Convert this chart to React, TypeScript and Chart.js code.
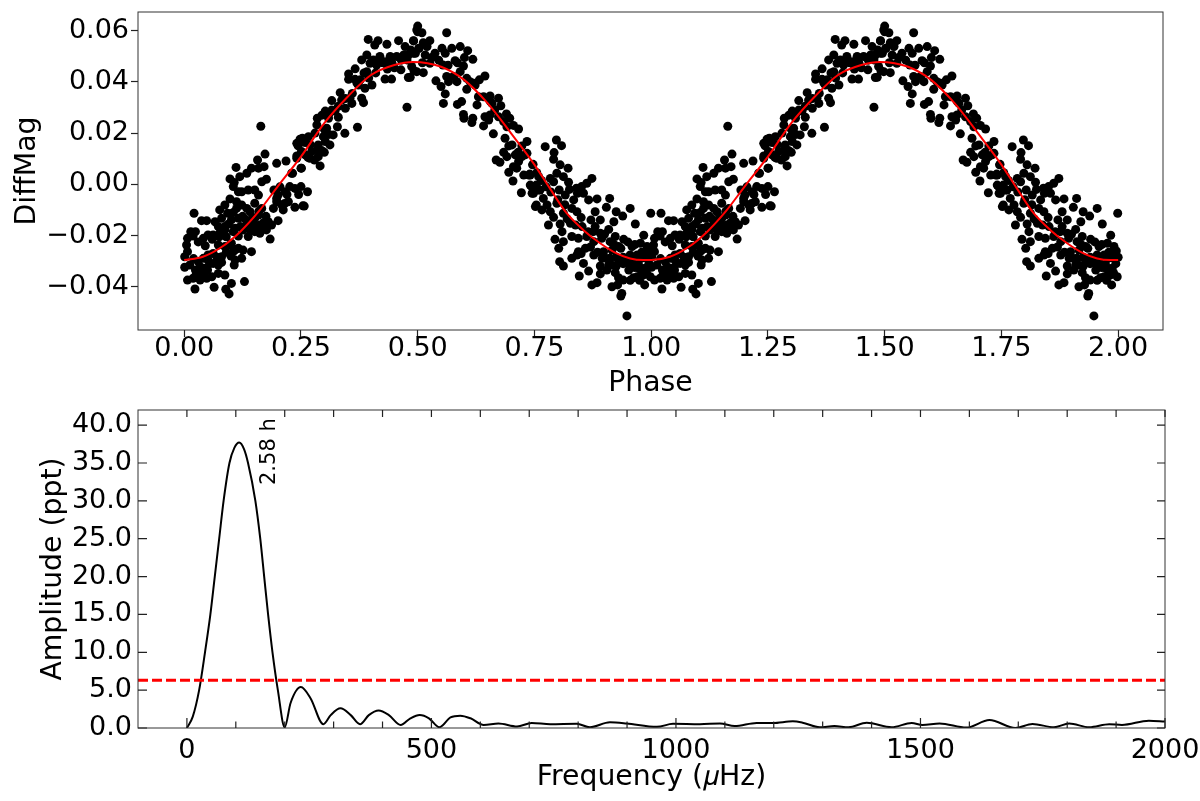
import { useEffect, useRef } from "react";
import { Chart, registerables } from "chart.js";

Chart.register(...registerables);

const FONT = "'DejaVu Sans', sans-serif";

// folded light curve, one cycle; the plot shows it twice
const phase = [
  0.005, 0.007, 0.014, 0.007, 0.001, 0.019, 0.024, 0.001, 0.012, 0.03, 0.041, 0.051, 0.062, 0.073, 0.087, 0.098,
  0.007, 0.019, 0.026, 0.034, 0.044, 0.023, 0.034, 0.048, 0.059, 0.064, 0.073, 0.073, 0.087, 0.101, 0.089, 0.096, 0.129,
  0.107, 0.109, 0.105, 0.123, 0.126, 0.116, 0.144, 0.08, 0.062, 0.051, 0.024, 0.041,
  0.021, 0.037, 0.048, 0.066, 0.073, 0.051, 0.062, 0.041, 0.076, 0.08, 0.093, 0.087, 0.076, 0.087, 0.101, 0.112, 0.116, 0.087, 0.098, 0.112, 0.123, 0.134,
  0.116, 0.123, 0.137, 0.151, 0.159, 0.151, 0.141, 0.166, 0.159, 0.151, 0.162, 0.146, 0.134, 0.126, 0.109, 0.151, 0.166, 0.184, 0.137, 0.162, 0.176, 0.187, 0.201, 0.18, 0.101, 0.116,
  0.111, 0.098, 0.107, 0.119, 0.134, 0.105, 0.144, 0.157, 0.173, 0.159, 0.171, 0.166, 0.176, 0.198, 0.218, 0.241, 0.251, 0.241, 0.253,
  0.192, 0.201, 0.198, 0.209, 0.226, 0.216, 0.237, 0.25, 0.23, 0.25, 0.191, 0.212, 0.223, 0.237, 0.257, 0.198, 0.164, 0.264, 0.254,
  0.232, 0.251, 0.291, 0.241, 0.259, 0.273, 0.279, 0.269, 0.294, 0.287, 0.287, 0.312, 0.302, 0.319, 0.298, 0.244, 0.248, 0.266, 0.259, 0.305, 0.328, 0.371, 0.344,
  0.284, 0.285, 0.309, 0.33, 0.316, 0.302, 0.323, 0.316, 0.334, 0.337, 0.345, 0.359, 0.355, 0.38, 0.384, 0.352, 0.352, 0.366, 0.366, 0.377, 0.373, 0.387, 0.402, 0.391,
  0.38, 0.391, 0.405, 0.398, 0.412, 0.408, 0.415, 0.394, 0.434, 0.43, 0.444, 0.48, 0.477, 0.419, 0.43, 0.441, 0.455, 0.445, 0.464, 0.459, 0.473, 0.491, 0.48, 0.491, 0.502, 0.487, 0.498, 0.477, 0.416, 0.498,
  0.5, 0.5, 0.509, 0.562, 0.491, 0.512, 0.526, 0.503, 0.52, 0.495, 0.516, 0.537, 0.552, 0.573, 0.591, 0.607, 0.618, 0.58, 0.559, 0.526, 0.554, 0.492, 0.512, 0.598, 0.591, 0.577, 0.562, 0.566, 0.584, 0.539, 0.55, 0.484, 0.605, 0.612, 0.605, 0.632, 0.644, 0.623,
  0.559, 0.555, 0.594, 0.585, 0.598, 0.599, 0.618, 0.616, 0.641, 0.662, 0.644, 0.652, 0.63, 0.627, 0.641, 0.655, 0.673, 0.659, 0.678, 0.655, 0.673, 0.697, 0.684, 0.691, 0.716,
  0.687, 0.702, 0.734, 0.723, 0.684, 0.691, 0.709, 0.734, 0.668, 0.676, 0.716, 0.723, 0.705, 0.695, 0.712, 0.747, 0.727, 0.738, 0.704, 0.741, 0.754, 0.722, 0.745, 0.759, 0.754,
  0.797, 0.773, 0.808, 0.792, 0.791, 0.805, 0.822, 0.746, 0.759, 0.798, 0.784, 0.812, 0.823, 0.741, 0.873, 0.862, 0.851, 0.791, 0.762, 0.744, 0.748, 0.803, 0.816, 0.842, 0.834, 0.866, 0.884, 0.911,
  0.769, 0.752, 0.777, 0.766, 0.798, 0.784, 0.791, 0.812, 0.83, 0.841, 0.904, 0.955, 0.925, 0.88, 0.891, 0.871, 0.939, 0.92, 0.966, 0.999,
  0.78, 0.827, 0.838, 0.852, 0.876, 0.909, 0.891, 0.809, 0.984, 0.794, 0.812, 0.83, 0.844, 0.862, 0.877, 0.894, 0.923, 0.941, 0.912, 0.959, 0.977, 0.991,
  0.802, 0.83, 0.844, 0.859, 0.877, 0.898, 0.93, 0.916, 0.841, 0.895, 0.912, 0.955, 0.97, 0.991, 0.948, 0.987, 0.804, 0.812, 0.855, 0.891, 0.909, 0.93, 0.973,
  0.866, 0.846, 0.891, 0.905, 0.952, 0.923, 0.97, 0.987, 0.873, 0.884, 0.916, 0.928, 0.94, 0.986, 0.937, 0.935, 0.948, 0.998,
  0.96, 0.978, 0.995, 0.965, 0.982, 0.996, 0.962, 0.94, 0.925,
  0.02, 0.03, 0.05, 0.055, 0.07, 0.08, 0.09, 0.1, 0.11, 0.045, 0.03, 0.06, 0.075, 0.09, 0.105, 0.12, 0.13, 0.145, 0.155, 0.17, 0.14, 0.125, 0.105, 0.095, 0.16, 0.175,
  0.205, 0.22, 0.245, 0.215, 0.265, 0.27, 0.285, 0.3, 0.28, 0.31, 0.3, 0.295, 0.31, 0.33, 0.345, 0.36, 0.37, 0.385, 0.395, 0.41, 0.425, 0.435, 0.45, 0.465, 0.47, 0.485,
  0.51, 0.53, 0.545, 0.565, 0.6, 0.585, 0.62, 0.655, 0.665, 0.69, 0.705, 0.695, 0.715, 0.73, 0.74, 0.755, 0.765, 0.775, 0.785, 0.8, 0.815, 0.825, 0.84, 0.855, 0.82, 0.805, 0.85,
  0.865, 0.88, 0.9, 0.92, 0.935, 0.95, 0.965, 0.98, 0.99, 0.94, 0.955, 0.975, 0.99, 0.925, 0.905, 0.885, 0.87, 0.85, 0.915, 0.93, 0.955, 0.975, 1,
];

const diffMag = [
  -0.0237, -0.0211, -0.0185, -0.0263, -0.0283, -0.0202, -0.0185, -0.0324, -0.0315, -0.0302, -0.0289, -0.0276, -0.027, -0.0237, -0.0243, -0.0237,
  -0.0374, -0.0367, -0.0348, -0.0322, -0.0328, -0.0409, -0.0374, -0.0367, -0.0361, -0.0402, -0.0315, -0.0348, -0.0354, -0.0387, -0.041, -0.0428, -0.038,
  -0.0315, -0.0296, -0.0263, -0.0289, -0.0257, -0.025, -0.0263, -0.0283, -0.0309, -0.0296, -0.0335, -0.0348,
  -0.0113, -0.0142, -0.0142, -0.0146, -0.0165, -0.0198, -0.0198, -0.0211, -0.01, -0.0133, -0.0113, -0.0178, -0.0191, -0.0165, -0.0139, -0.0094, -0.0133, -0.0081, -0.0057, -0.0068, -0.0081, -0.0094,
  -0.0029, -0.0029, -0.0022, -0.0022, -0.0042, -0.0074, -0.0107, -0.0094, -0.012, -0.0133, -0.0159, -0.0155, -0.0159, -0.0178, -0.0172, -0.0185, -0.0178, -0.0214, -0.0204, -0.0191, -0.0178, -0.0159, -0.0142, -0.0146, -0.023, -0.0202,
  0.0066, 0.0021, 0.0007, 0.003, 0.0043, -0.0009, 0.0063, 0.0095, 0.0118, 0.0063, 0.0069, 0.001, 0.002, 0.0082, 0.0091, 0.0102, 0.0128, 0.016, 0.018,
  -0.0022, -0.0042, -0.0068, -0.0081, -0.0009, -0.0029, -0.0016, -0.0009, 0.0043, 0.0063, -0.0094, -0.01, -0.0068, -0.009, -0.0085, -0.0055, 0.0227, -0.0029, -0.0084,
  0.0043, 0.0063, 0.0072, 0.0111, 0.0115, 0.0128, 0.0095, 0.0102, 0.0132, 0.0154, 0.0108, 0.0154, 0.0167, 0.0193, 0.0186, 0.015, 0.0176, 0.0186, 0.0163, 0.0219, 0.0225, 0.0223, 0.0199,
  0.0232, 0.0258, 0.0258, 0.0262, 0.029, 0.0286, 0.0286, 0.0327, 0.0358, 0.0329, 0.0297, 0.0316, 0.0336, 0.0336, 0.0319, 0.0431, 0.041, 0.0451, 0.041, 0.0408, 0.0388, 0.0375, 0.0388, 0.044,
  0.0486, 0.0505, 0.0486, 0.0473, 0.0466, 0.0544, 0.0561, 0.0566, 0.0547, 0.0411, 0.0411, 0.0417, 0.0301, 0.0499, 0.0479, 0.0499, 0.0499, 0.0473, 0.0447, 0.0561, 0.0538, 0.056, 0.0505, 0.0512, 0.0531, 0.046, 0.044, 0.0486, 0.0479, 0.0603,
  0.0618, 0.0596, 0.0592, 0.0592, 0.0561, 0.0553, 0.0561, 0.0531, 0.0538, 0.0512, 0.0505, 0.0512, 0.0531, 0.0531, 0.0538, 0.0522, 0.0488, 0.0483, 0.0512, 0.0473, 0.0466, 0.0444, 0.0436, 0.0462, 0.044, 0.0421, 0.0421, 0.0401, 0.0401, 0.0404, 0.0382, 0.0418, 0.0414, 0.0401, 0.0371, 0.0408, 0.0423, 0.0388,
  0.0353, 0.0316, 0.0323, 0.0312, 0.0273, 0.0258, 0.0258, 0.0241, 0.0228, 0.0197, 0.0264, 0.0251, 0.0342, 0.031, 0.0342, 0.0345, 0.0336, 0.0316, 0.0307, 0.0271, 0.0264, 0.0258, 0.0245, 0.0225, 0.0216,
  0.018, 0.0154, 0.0167, 0.015, 0.0125, 0.0108, 0.0115, 0.0121, 0.0095, 0.0086, 0.0089, 0.0108, 0.0069, 0.0047, 0.0063, 0.0078, 0.0036, 0.0036, 0.0013, -0.0003, -0.0003, -0.0033, -0.0035, -0.0022, -0.0081,
  0.0173, 0.0147, 0.0151, 0.0124, 0.0098, 0.0076, 0.0063, 0.0076, 0.003, 0.0043, 0.0023, 0.003, 0.0008, 0.0036, 0.0023, 0.0004, -0.0009, 0.001, -0.0022, -0.0009, -0.0035, -0.0022, -0.0042, -0.0035, -0.0061, -0.0061, -0.0057, -0.0055,
  -0.0055, -0.0087, -0.0081, -0.01, -0.0074, -0.0107, -0.0129, -0.0113, -0.0094, -0.0107, -0.009, -0.0094, -0.0107, -0.0107, -0.0139, -0.0139, -0.0124, -0.0146, -0.0155, -0.0113,
  -0.0159, -0.0152, -0.0159, -0.0165, -0.0185, -0.0176, -0.0191, -0.0185, -0.0199, -0.0215, -0.0224, -0.0204, -0.0211, -0.0204, -0.0224, -0.0211, -0.0204, -0.0215, -0.0224, -0.0243, -0.023, -0.0243,
  -0.025, -0.0289, -0.0263, -0.025, -0.0276, -0.0263, -0.0243, -0.0257, -0.0276, -0.0289, -0.0289, -0.0276, -0.0276, -0.0289, -0.0302, -0.0328, -0.0302, -0.0319, -0.0309, -0.0319, -0.0315, -0.0296, -0.0315,
  -0.0339, -0.0358, -0.035, -0.0335, -0.0335, -0.0345, -0.0361, -0.0348, -0.0393, -0.0384, -0.04, -0.0393, -0.0374, -0.0393, -0.0426, -0.0436, -0.0514, -0.0361,
  -0.03, -0.029, -0.031, -0.0325, -0.0355, -0.026, -0.0365, -0.0285, -0.032,
  -0.029, -0.0335, -0.0335, -0.031, -0.0285, -0.0305, -0.0265, -0.028, -0.0255, -0.024, -0.0225, -0.0215, -0.0205, -0.0205, -0.0185, -0.0165, -0.0135, -0.0135, -0.0165, -0.015, -0.0175, -0.0125, -0.011, -0.0155, -0.0105, -0.0125,
  -0.001, -0.004, -0.004, -0.0075, 0.0105, 0.0155, 0.0135, 0.0125, 0.02, 0.0195, 0.0215, 0.027, 0.0275, 0.0305, 0.0335, 0.0355, 0.0395, 0.0435, 0.0415, 0.0435, 0.0475, 0.045, 0.0455, 0.0485, 0.0505, 0.0525,
  0.0475, 0.0495, 0.0485, 0.0465, 0.0495, 0.0475, 0.0395, 0.0325, 0.029, 0.0275, 0.023, 0.015, 0.0125, 0.0115, 0.004, 0.0045, 0.0015, -0.001, -0.003, -0.006, -0.008, -0.002, -0.0015, -0.0035, -0.0135, -0.0155, -0.013,
  -0.0185, -0.0165, -0.0195, -0.0235, -0.025, -0.0225, -0.0235, -0.0265, -0.0275, -0.031, -0.032, -0.033, -0.0345, -0.0285, -0.029, -0.0265, -0.0245, -0.027, -0.0315, -0.0365, -0.0375, -0.0375, -0.0285,
];

// red fit through the light curve
const fitPhase = [0, 0.04, 0.08, 0.12, 0.16, 0.2, 0.25, 0.3, 0.35, 0.4, 0.45, 0.49, 0.55, 0.6, 0.65, 0.7, 0.748, 0.783, 0.819, 0.855, 0.89, 0.926, 0.955, 0.983, 1];
const fitMag = [-0.0296, -0.0283, -0.0245, -0.0185, -0.0105, -0.0009, 0.0108, 0.0239, 0.0342, 0.0427, 0.0466, 0.0478, 0.0459, 0.0407, 0.0316, 0.0199, 0.0082, -0.0016, -0.0113, -0.0179, -0.0229, -0.027, -0.029, -0.0296, -0.0296];

const frequency = [
  0, 12, 25, 37, 48, 57, 66, 75, 87, 97, 107, 117, 125, 140, 150, 158, 166, 175, 186, 200, 212, 233, 253, 279, 294, 314, 335, 354, 372, 392, 413, 437,
  457, 476, 495, 516, 539, 559, 580, 607, 637, 675, 705, 743, 797, 824, 865, 899, 961, 994, 1049, 1090, 1120, 1165, 1198, 1239,
  1259, 1294, 1324, 1353, 1390, 1441, 1482, 1504, 1539, 1594, 1641, 1694, 1729, 1773, 1804, 1845, 1886, 1912, 1967, 2000,
];
const amplitude = [
  0, 1.5, 5, 10, 15, 20, 25, 30, 35, 37, 37.7, 36.8, 35, 30, 25, 20, 15, 10, 5, 0.1, 3.3, 5.4, 3.9, 0.5, 1.7, 2.6, 1.7, 0.5, 1.7, 2.3, 1.7, 0.4,
  1.28, 1.72, 1.28, 0.1, 1.4, 1.63, 1.28, 0.4, 0.6, 0.2, 0.66, 0.5, 0.55, 0.1, 0.75, 0.6, 0.15, 0.55, 0.5, 0.6, 0.25, 0.66, 0.66, 0.88,
  0.7, 0.1, 0.25, 0.1, 0.7, 0.1, 0.66, 0.4, 0.6, 0.05, 1.05, 0, 0.53, 0.1, 0.6, 0.1, 0.5, 0.4, 0.97, 0.85,
];

const thresholdAmp = 6.3;
const peakLabel = "2.58 h";

const phaseTicks = [0, 0.25, 0.5, 0.75, 1, 1.25, 1.5, 1.75, 2];
const magTicks = [-0.04, -0.02, 0, 0.02, 0.04, 0.06];
const freqTicks = [0, 500, 1000, 1500, 2000];
const freqMinorTicks = [100, 200, 300, 400, 600, 700, 800, 900, 1100, 1200, 1300, 1400, 1600, 1700, 1800, 1900];
const ampTicks = [0, 5, 10, 15, 20, 25, 30, 35, 40];

const frame = {
  id: "frame",
  afterDraw(chart: any) {
    const { ctx, chartArea: a } = chart;
    ctx.save();
    ctx.strokeStyle = "#333";
    ctx.lineWidth = 1;
    ctx.strokeRect(a.left, a.top, a.right - a.left, a.bottom - a.top);
    ctx.restore();
  },
};

// the lower panel has its ticks inside the box, on all four sides
const insideTicks = {
  id: "insideTicks",
  afterDraw(chart: any) {
    const { ctx, chartArea: a, scales } = chart;
    ctx.save();
    ctx.strokeStyle = "#222";
    ctx.lineWidth = 1.2;
    ctx.beginPath();
    const allFreq = [...freqTicks, ...freqMinorTicks];
    allFreq.forEach((f) => {
      const x = scales.x.getPixelForValue(f);
      ctx.moveTo(x, a.top);
      ctx.lineTo(x, a.top + 7);
      ctx.moveTo(x, a.bottom);
      ctx.lineTo(x, a.bottom - (freqTicks.includes(f) ? 10 : 6.5));
    });
    ampTicks.forEach((v) => {
      const y = scales.y.getPixelForValue(v);
      ctx.moveTo(a.left, y);
      ctx.lineTo(a.left + 9, y);
      ctx.moveTo(a.right, y);
      ctx.lineTo(a.right - 8, y);
    });
    ctx.stroke();
    // period label next to the peak
    ctx.translate(scales.x.getPixelForValue(170), scales.y.getPixelForValue(36.5));
    ctx.rotate(-Math.PI / 2);
    ctx.font = `21px ${FONT}`;
    ctx.fillStyle = "#000";
    ctx.textAlign = "center";
    ctx.textBaseline = "middle";
    ctx.fillText(peakLabel, 0, 0);
    ctx.restore();
  },
};

const setTicks = (values: number[]) => (scale: any) => {
  scale.ticks = values.map((value) => ({ value }));
};

const fixHeight = (h: number) => (s: any) => {
  s.height = h;
  s.paddingLeft = 0;
  s.paddingRight = 0;
};

const fixWidth = (w: number) => (s: any) => {
  s.width = w;
  s.paddingTop = 0;
  s.paddingBottom = 0;
};

const axisTitle = (text: string, pad: number) => ({
  display: true,
  text,
  color: "#000",
  font: { family: FONT, size: 28.3, lineHeight: 1 },
  padding: { top: pad, bottom: pad },
});

const minusSign = (s: string) => s.replace("-", "\u2212");

export default function App() {
  const topRef = useRef<HTMLCanvasElement | null>(null);
  const bottomRef = useRef<HTMLCanvasElement | null>(null);

  useEffect(() => {
    document.body.style.margin = "0";
    if (!topRef.current || !bottomRef.current) return;

    const points = phase.map((p, i) => ({ x: p, y: diffMag[i] }));
    const fit = fitPhase.map((p, i) => ({ x: p, y: fitMag[i] }));

    const topChart = new Chart(topRef.current, {
      type: "scatter",
      data: {
        datasets: [
          {
            data: [...fit, ...fit.slice(1).map((d) => ({ x: d.x + 1, y: d.y }))],
            showLine: true,
            borderColor: "#ff0000",
            borderWidth: 2,
            pointRadius: 0,
            cubicInterpolationMode: "monotone",
            order: 1,
          } as any,
          {
            data: [...points, ...points.map((d) => ({ x: d.x + 1, y: d.y }))],
            backgroundColor: "#000",
            borderWidth: 0,
            pointRadius: 4.5,
            order: 2,
          },
        ],
      },
      options: {
        animation: false,
        responsive: false,
        devicePixelRatio: 1,
        layout: { padding: { top: 12, right: 37 } },
        plugins: { legend: { display: false }, tooltip: { enabled: false } },
        scales: {
          x: {
            type: "linear",
            min: -0.099,
            max: 2.096,
            afterBuildTicks: setTicks(phaseTicks),
            afterFit: fixHeight(65),
            grid: { drawOnChartArea: false, tickLength: 7, tickColor: "#222", tickWidth: 1.2 },
            border: { display: false },
            ticks: {
              autoSkip: false,
              maxRotation: 0,
              padding: -4,
              color: "#000",
              font: { family: FONT, size: 27 },
              callback: (v: any) => Number(v).toFixed(2),
            },
            title: axisTitle("Phase", -3),
          },
          y: {
            min: -0.0569,
            max: 0.0673,
            afterBuildTicks: setTicks(magTicks),
            afterFit: fixWidth(138),
            grid: { drawOnChartArea: false, tickLength: 7, tickColor: "#222", tickWidth: 1.2 },
            border: { display: false },
            ticks: {
              padding: 2,
              color: "#000",
              font: { family: FONT, size: 27 },
              callback: (v: any) => minusSign(Number(v).toFixed(2)),
            },
            title: axisTitle("DiffMag", 13),
          },
        },
      },
      plugins: [frame],
    });

    const bottomChart = new Chart(bottomRef.current, {
      type: "scatter",
      data: {
        datasets: [
          {
            data: [{ x: -100, y: thresholdAmp }, { x: 2000, y: thresholdAmp }],
            showLine: true,
            borderColor: "#ff0000",
            borderWidth: 3,
            borderDash: [10, 4],
            pointRadius: 0,
            order: 1,
          },
          {
            data: frequency.map((f, i) => ({ x: f, y: amplitude[i] })),
            showLine: true,
            borderColor: "#000",
            borderWidth: 2,
            pointRadius: 0,
            cubicInterpolationMode: "monotone",
            order: 2,
          } as any,
        ],
      },
      options: {
        animation: false,
        responsive: false,
        devicePixelRatio: 1,
        layout: { padding: { top: 15, right: 35 } },
        plugins: { legend: { display: false }, tooltip: { enabled: false } },
        scales: {
          x: {
            type: "linear",
            min: -100,
            max: 2000,
            afterBuildTicks: setTicks(freqTicks),
            afterFit: fixHeight(73),
            grid: { display: false, drawTicks: false },
            border: { display: false },
            ticks: {
              autoSkip: false,
              maxRotation: 0,
              padding: 7,
              color: "#000",
              font: { family: FONT, size: 27 },
              callback: (v: any) => String(v),
            },
            title: axisTitle("Frequency (\u{1D707}Hz)", 9),
          },
          y: {
            min: 0,
            max: 42,
            afterBuildTicks: setTicks(ampTicks),
            afterFit: fixWidth(138),
            grid: { display: false, drawTicks: false },
            border: { display: false },
            ticks: {
              padding: 6,
              color: "#000",
              font: { family: FONT, size: 27 },
              callback: (v: any) => Number(v).toFixed(1),
            },
            title: axisTitle("Amplitude (ppt)", 39),
          },
        },
      },
      plugins: [frame, insideTicks],
    });

    return () => {
      topChart.destroy();
      bottomChart.destroy();
    };
  }, []);

  return (
    <div style={{ position: "relative", width: 1200, height: 801, background: "#fff" }}>
      <canvas ref={topRef} width={1200} height={395} style={{ position: "absolute", left: 0, top: 0 }} />
      <canvas ref={bottomRef} width={1200} height={406} style={{ position: "absolute", left: 0, top: 395 }} />
    </div>
  );
}
